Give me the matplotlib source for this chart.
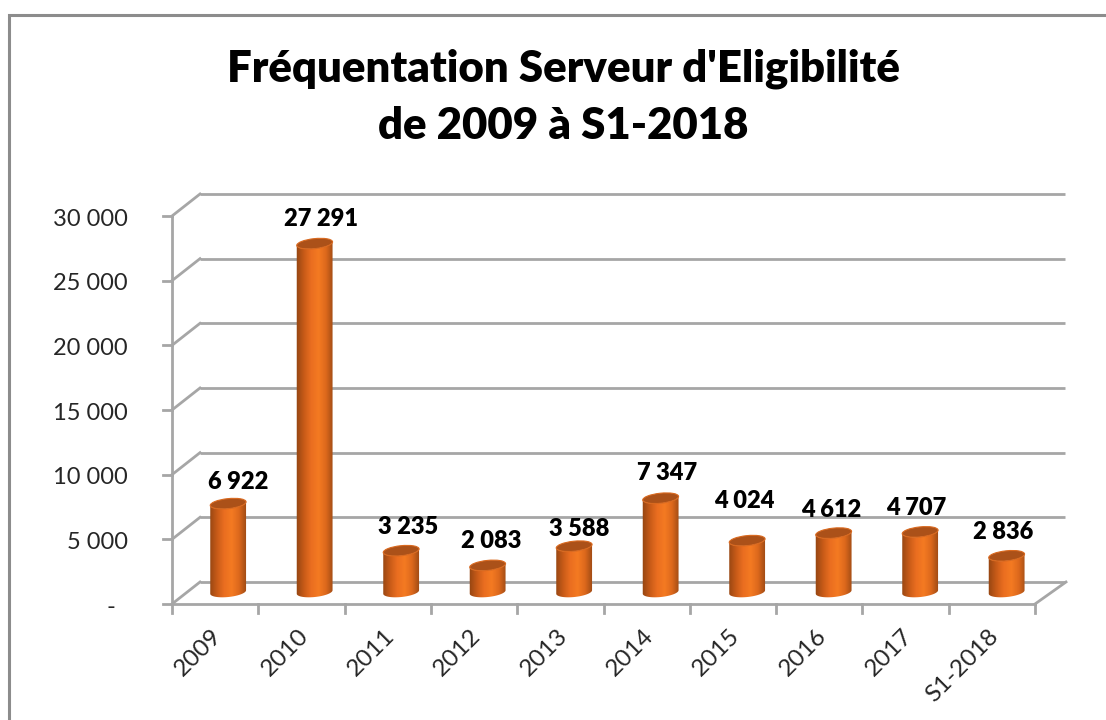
import numpy as np
import matplotlib
matplotlib.use('Agg')
import matplotlib.pyplot as plt
from matplotlib.colors import LinearSegmentedColormap
from matplotlib.path import Path
from matplotlib.patches import PathPatch, Ellipse, Rectangle
from matplotlib.transforms import Affine2D, IdentityTransform

years = ['2009', '2010', '2011', '2012', '2013', '2014', '2015', '2016', '2017', 'S1-2018']
visits = [6922, 27291, 3235, 2083, 3588, 7347, 4024, 4612, 4707, 2836]
labels = ['6 922', '27 291', '3 235', '2 083', '3 588', '7 347', '4 024', '4 612', '4 707', '2 836']
y_ticks = [0, 5000, 10000, 15000, 20000, 25000, 30000]
y_tick_labels = ['-', '5 000', '10 000', '15 000', '20 000', '25 000', '30 000']
# nudges of the value labels from the top of each cylinder, in pixels
label_dx = [10, 6, 7, 4, 5, 6, -3, -2, -4, -4]
label_dy = [22, 25, 24, 24, 17, 25, 40, 23, 24, 24]

W, H = 1106, 720
GRID = '#a6a6a6'
plt.rcParams['font.family'] = ['Lato', 'DejaVu Sans']

fig = plt.figure(figsize=(W / 100, H / 100), dpi=100)
# front plane of the fake 3d box, in pixels
left, right, top, bottom = 172, 1035, 216, 604
ax = fig.add_axes([left / W, 1 - bottom / H, (right - left) / W, (bottom - top) / H])
ax.set_xlim(-0.5, len(years) - 0.5)
ax.set_ylim(0, 30000)
ax.patch.set_visible(False)
for s in ax.spines.values():
    s.set_visible(False)
ax.set_xticks([])
ax.set_yticks([])

# outer frame
fig.add_artist(Rectangle((9 / W, -0.1), 1.2, 1.1 - 15 / H, transform=fig.transFigure,
                         fill=False, ec='#8c8c8c', lw=2.2))

# box lines
back = ax.transData + Affine2D().translate(28, 22)
x0, x1 = -0.5, len(years) - 0.5
for v, lab in zip(y_ticks, y_tick_labels):
    ax.plot([x0, x1 + 2 / 86.3], [v, v], transform=back, color=GRID, lw=2, clip_on=False, zorder=1,
            solid_capstyle='butt')
    p0 = ax.transData.transform((x0, v))
    ax.plot([p0[0], p0[0] + 28], [p0[1], p0[1] + 22], transform=IdentityTransform(),
            color=GRID, lw=2, clip_on=False, zorder=1)
    ax.plot([p0[0] - 9, p0[0]], [p0[1], p0[1]], transform=IdentityTransform(),
            color=GRID, lw=2, clip_on=False, zorder=1)
    shift = -57 if v == 0 else -44
    ax.text(x0, v, lab, transform=ax.transData + Affine2D().translate(shift, -3),
            ha='right', va='center', fontsize=17, color='#262626')
ax.plot([x0, x0], [0, 30000], color=GRID, lw=2, clip_on=False, zorder=1)
ax.plot([x0, x1], [0, 0], color=GRID, lw=2, clip_on=False, zorder=1)
p1 = ax.transData.transform((x1, 0))
ax.plot([p1[0], p1[0] + 31], [p1[1], p1[1] + 22], transform=IdentityTransform(),
        color=GRID, lw=2, clip_on=False, zorder=1)
for i in range(len(years) + 1):
    p = ax.transData.transform((i - 0.5, 0))
    ax.plot([p[0], p[0]], [p[1], p[1] - 9], transform=IdentityTransform(),
            color=GRID, lw=2, clip_on=False, zorder=1)

# cylinders
cyl = LinearSegmentedColormap.from_list('cyl', ['#944512', '#c65a18', '#ea6e20', '#f47a22', '#dc681c', '#9c4a14'])
grad = np.linspace(0, 1, 64).reshape(1, -1)
rx, ry, tilt = 18, 5, 6
theta = np.radians(tilt)


def ellipse_pt(cx, cy, t):
    return (cx + rx * np.cos(t) * np.cos(theta) - ry * np.sin(t) * np.sin(theta),
            cy + rx * np.cos(t) * np.sin(theta) + ry * np.sin(t) * np.cos(theta))


for i, v in enumerate(visits):
    bx, by = ax.transData.transform((i, 0))
    tx, ty = ax.transData.transform((i, v))
    bx, tx = bx + 13 + 0.2 * i, tx + 13 + 0.2 * i
    ty = by + 12 + (ty - by) * 0.987
    by = by + 12
    # body outline: bottom arc, then top arc back
    t = np.linspace(np.pi, 2 * np.pi, 30)
    bot = np.column_stack(ellipse_pt(bx, by, t))
    upp = np.column_stack(ellipse_pt(tx, ty, t[::-1]))
    verts = np.vstack([bot, upp, bot[:1]])
    patch = PathPatch(Path(verts), transform=IdentityTransform(), fc='none', ec='none')
    ax.add_patch(patch)
    im = ax.imshow(grad, cmap=cyl, aspect='auto', zorder=3, interpolation='bilinear',
                   extent=(bx - rx - 1, bx + rx + 1, by - ry - 4, ty + ry + 4),
                   transform=IdentityTransform(), clip_on=True)
    im.set_clip_path(patch)
    ax.add_patch(Ellipse((tx, ty), 2 * rx, 2 * ry, angle=tilt, transform=IdentityTransform(),
                         fc='#ab5119', ec='#d9691f', lw=0.8, zorder=4))
    ax.text(tx + label_dx[i], ty + label_dy[i], labels[i], transform=IdentityTransform(),
            ha='center', va='center', fontsize=17, fontweight='heavy', color='black', zorder=5)
    ax.text(i, 0, years[i], transform=ax.transData + Affine2D().translate(-4, -21),
            ha='right', va='top', rotation=45, rotation_mode='anchor', fontsize=17.5, color='#262626')
ax.set_xlim(-0.5, len(years) - 0.5)
ax.set_ylim(0, 30000)

fig.text(563.5 / W, 1 - 97 / H, "Fréquentation Serveur d'Eligibilité\nde 2009 à S1-2018",
         ha='center', va='center', fontsize=31.5, fontweight='heavy', color='black', linespacing=1.53)

fig.savefig('out.png', dpi=100)
